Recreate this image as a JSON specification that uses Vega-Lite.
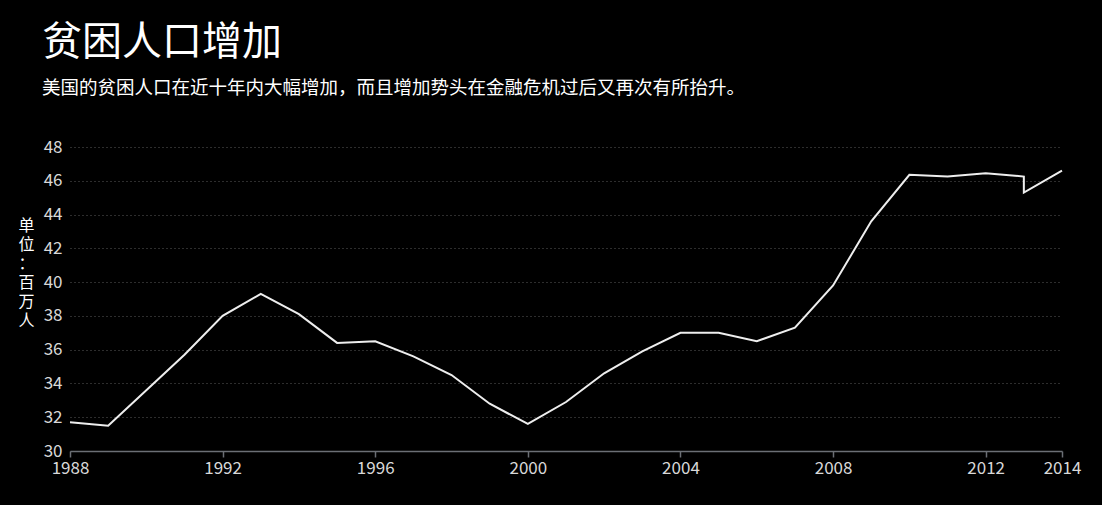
{
  "$schema": "https://vega.github.io/schema/vega-lite/v6.json",
  "width": 992,
  "height": 304,
  "autosize": {"type": "none"},
  "padding": {"left": 70, "top": 147, "right": 40, "bottom": 54},
  "background": "#000000",
  "config": {
    "font": "Noto Sans CJK SC",
    "view": {"stroke": null}
  },
  "title": {
    "text": "贫困人口增加",
    "subtitle": "美国的贫困人口在近十年内大幅增加，而且增加势头在金融危机过后又再次有所抬升。",
    "anchor": "start",
    "frame": "group",
    "dx": -28,
    "offset": 41,
    "fontSize": 40,
    "fontWeight": "normal",
    "color": "#ffffff",
    "subtitleFontSize": 18.5,
    "subtitleColor": "#ffffff",
    "subtitlePadding": 16,
    "subtitleFont": "Noto Sans CJK SC",
    "font": "Noto Sans CJK SC"
  },
  "data": {
    "values": [
      {"i": 0, "year": 1988, "value": 31.7},
      {"i": 1, "year": 1989, "value": 31.5},
      {"i": 2, "year": 1990, "value": 33.6},
      {"i": 3, "year": 1991, "value": 35.7},
      {"i": 4, "year": 1992, "value": 38.0},
      {"i": 5, "year": 1993, "value": 39.3},
      {"i": 6, "year": 1994, "value": 38.1},
      {"i": 7, "year": 1995, "value": 36.4},
      {"i": 8, "year": 1996, "value": 36.5},
      {"i": 9, "year": 1997, "value": 35.6},
      {"i": 10, "year": 1998, "value": 34.5},
      {"i": 11, "year": 1999, "value": 32.8},
      {"i": 12, "year": 2000, "value": 31.6},
      {"i": 13, "year": 2001, "value": 32.9},
      {"i": 14, "year": 2002, "value": 34.6},
      {"i": 15, "year": 2003, "value": 35.9},
      {"i": 16, "year": 2004, "value": 37.0},
      {"i": 17, "year": 2005, "value": 37.0},
      {"i": 18, "year": 2006, "value": 36.5},
      {"i": 19, "year": 2007, "value": 37.3},
      {"i": 20, "year": 2008, "value": 39.8},
      {"i": 21, "year": 2009, "value": 43.6},
      {"i": 22, "year": 2010, "value": 46.35},
      {"i": 23, "year": 2011, "value": 46.25},
      {"i": 24, "year": 2012, "value": 46.45},
      {"i": 25, "year": 2013, "value": 46.25},
      {"i": 26, "year": 2013, "value": 45.3},
      {"i": 27, "year": 2014, "value": 46.6}
    ]
  },
  "mark": {"type": "line", "color": "#eeeeee", "strokeWidth": 2},
  "encoding": {
    "x": {
      "field": "year",
      "type": "quantitative",
      "scale": {"domain": [1988, 2014], "nice": false, "zero": false},
      "axis": {
        "title": null,
        "values": [1988, 1992, 1996, 2000, 2004, 2008, 2012, 2014],
        "format": "d",
        "grid": false,
        "domainColor": "#6b6f75",
        "domainWidth": 1.5,
        "tickColor": "#6b6f75",
        "tickSize": 6,
        "tickWidth": 1.5,
        "labelColor": "#d8d8d8",
        "labelFontSize": 17,
        "labelPadding": 3,
        "labelFlush": false
      }
    },
    "y": {
      "field": "value",
      "type": "quantitative",
      "scale": {"domain": [30, 48], "nice": false, "zero": false},
      "axis": {
        "values": [30, 32, 34, 36, 38, 40, 42, 44, 46, 48],
        "domain": false,
        "ticks": false,
        "grid": true,
        "gridColor": "#5a5a5a",
        "gridDash": [1, 3],
        "gridWidth": 1,
        "labelColor": "#d8d8d8",
        "labelFontSize": 17,
        "labelPadding": 8,
        "title": ["单", "位", "：", "百", "万", "人"],
        "titleAngle": 0,
        "titleColor": "#ffffff",
        "titleFontSize": 16,
        "titleFontWeight": "normal",
        "titleLineHeight": 19,
        "titleAlign": "center",
        "titleBaseline": "top",
        "titleX": -44,
        "titleY": 70
      }
    },
    "order": {"field": "i", "type": "quantitative"}
  }
}
